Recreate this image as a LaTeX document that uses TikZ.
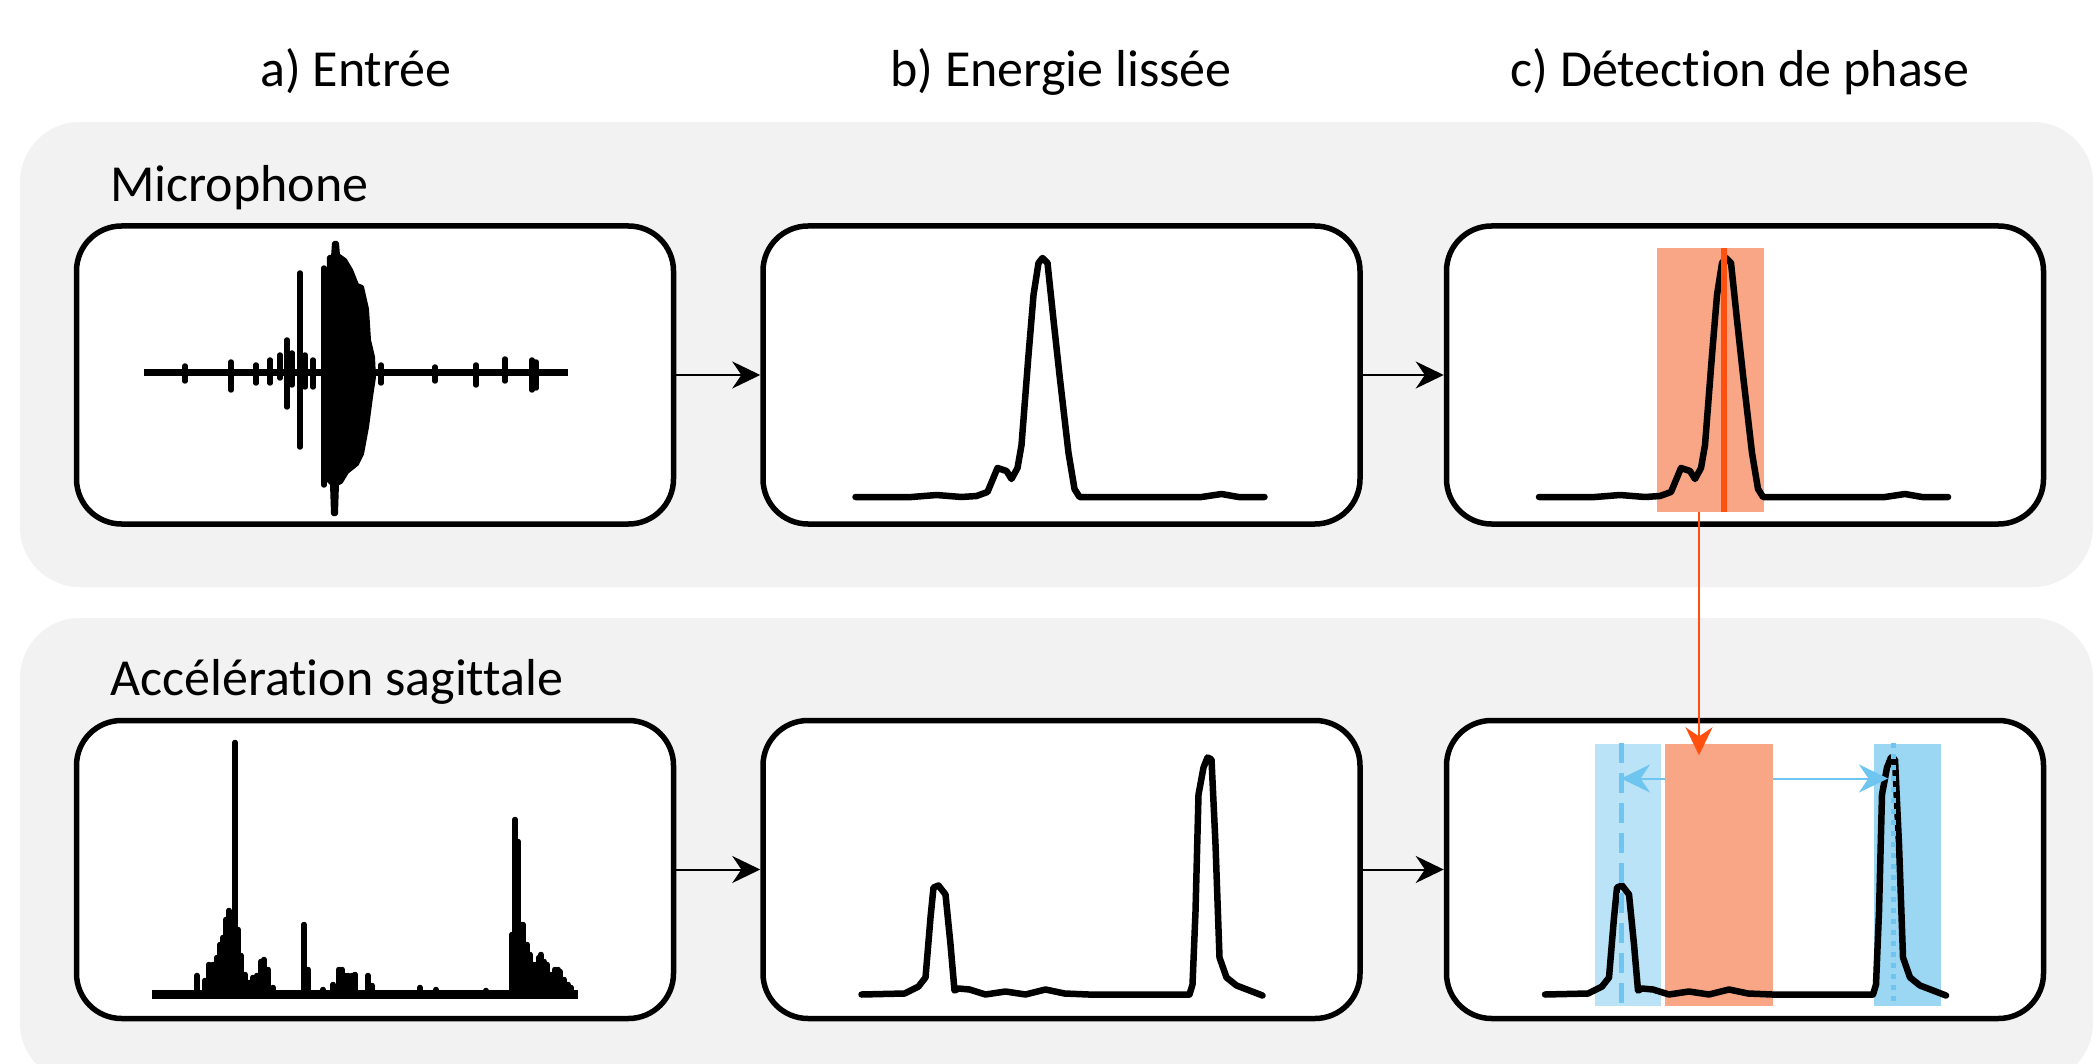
\documentclass[tikz,border=0pt]{standalone}
\usepackage{fontspec}
\setmainfont{Carlito}[Ligatures=NoCommon]
\usetikzlibrary{positioning, arrows.meta}

\definecolor{bandgray}{HTML}{F2F2F2}
\definecolor{salmon}{RGB}{248,166,134}
\definecolor{vermilion}{RGB}{255,80,16}
\definecolor{skyline}{RGB}{110,198,240}
\definecolor{skylight}{RGB}{186,227,247}
\definecolor{skymid}{RGB}{155,215,243}

\tikzstyle{band} = [fill=bandgray, rounded corners=60pt]
\tikzstyle{panel} = [rectangle, rounded corners=45pt, minimum width=597pt, minimum height=298pt, draw=black, line width=5.5pt, fill=white]
\tikzstyle{coltitle} = [anchor=base, inner sep=0pt, font=\fontsize{52}{62}\selectfont]
\tikzstyle{rowlabel} = [anchor=base west, inner sep=0pt, font=\fontsize{52}{62}\selectfont]
\tikzstyle{arrow} = [line width=2pt, -{Stealth[length=28pt,width=27pt]}]
\tikzstyle{signal} = [line width=6.5pt, line join=round, line cap=round]
\tikzstyle{spike} = [line width=5.5pt, line cap=round]
\tikzstyle{window} = [rectangle, inner sep=0pt, minimum width=107pt, minimum height=263pt, fill=salmon]
\tikzstyle{segment} = [rectangle, inner sep=0pt, minimum width=66pt, minimum height=262pt]
\tikzstyle{redlink} = [line width=2pt, draw=vermilion, -{Stealth[length=28pt,width=27pt]}]
\tikzstyle{bluelink} = [line width=2pt, draw=skyline, -{Stealth[length=29pt,width=28pt]}]

% smoothed energy curves, local coordinates (y down)
\newcommand{\micenergy}{(-206,122) -- (-150,122) -- (-125,120) -- (-100,122) -- (-85,121) -- (-74,117) -- (-64,93) -- (-55,96) -- (-50,104) -- (-44,93) -- (-40,70) -- (-33,-20) -- (-28,-80) -- (-23,-112) -- (-19,-117) -- (-14,-112) -- (-8,-55) -- (-2,0) -- (7,78) -- (13,114) -- (18,122) -- (140,122) -- (160,119) -- (177,122) -- (203,122)}
\newcommand{\accenergy}{(-200,125) -- (-157,124) -- (-143,117) -- (-136,108) -- (-131,48) -- (-128,18) -- (-123,16) -- (-116,25) -- (-111,75) -- (-107,121) -- (-103,119) -- (-92,120) -- (-76,125) -- (-56,122) -- (-36,125) -- (-16,120) -- (3,124) -- (27,125) -- (128,125) -- (131,115) -- (134,42) -- (137,-75) -- (142,-102) -- (146,-112) -- (150,-110) -- (154,-25) -- (158,88) -- (165,108) -- (175,116) -- (201,126)}

\begin{document}
\begin{tikzpicture}[x=1pt, y=-1pt]

\useasboundingbox (0,0) rectangle (2099,1064);
\fill[white] (0,0) rectangle (2099,1064);

% background bands
\fill[band] (20,122) rectangle (2093,587);
\fill[band] (20,618) rectangle (2093,1083);

% column titles and row labels
\node (titlea) [coltitle] at (356,87) {a) Entrée};
\node (titleb) [coltitle] at (1061,87) {b) Energie lissée};
\node (titlec) [coltitle] at (1740,87) {c) Détection de phase};
\node (labmic) [rowlabel] at (110,202) {Microphone};
\node (labacc) [rowlabel] at (110,695) {Accélération sagittale};

% panels
\node (p1mic) [panel] at (375,375) {};
\node (p2mic) [panel, right=84pt of p1mic] {};
\node (p3mic) [panel, right=81pt of p2mic] {};
\node (p1acc) [panel, below=191pt of p1mic] {};
\node (p2acc) [panel, right=84pt of p1acc] {};
\node (p3acc) [panel, right=81pt of p2acc] {};

\draw [arrow] (p1mic) -- (p2mic);
\draw [arrow] (p2mic) -- (p3mic);
\draw [arrow] (p1acc) -- (p2acc);
\draw [arrow] (p2acc) -- (p3acc);

% raw microphone signal
\begin{scope}[shift={(p1mic.center)}]
  \draw[line width=7pt] (-231,-2) -- (193,-2);
  \foreach \x/\t/\b in {-190/-9/6, -144/-13/15, -119/-10/8, -105/-15/8, -95/-20/3, -88/-35/32, -83/-22/10, -75/-102/72, -70/-20/12, -62/-15/12, -51/-107/110, 6/-10/8, 60/-8/6, 101/-10/10, 130/-16/6, 157/-15/15, 161/-13/13}
    \draw[spike] (\x,\t) -- (\x,\b);
  \filldraw[line width=4pt, line join=round] (-47,-2) -- (-46,-118) -- (-42,-118) -- (-41,-132) -- (-38,-132) -- (-37,-120) -- (-30,-115) -- (-24,-105) -- (-18,-90) -- (-13,-88) -- (-8,-66) -- (-6,-35) -- (-2,-18) -- (-1,2) -- (-4,22) -- (-8,52) -- (-13,79) -- (-18,89) -- (-28,97) -- (-34,107) -- (-38,109) -- (-39,139) -- (-42,139) -- (-43,109) -- (-47,105) -- cycle;
\end{scope}

% raw sagittal acceleration
\begin{scope}[shift={(p1acc.center)}]
  \draw[line width=9pt] (-223,125) -- (203,125);
  \foreach \x/\t in {-178/106, -170/111, -166/95, -162/95, -158/88, -155/75, -152/68, -149/50, -146/41, -140/-127, -137/60, -134/86, -130/105, -126/113, -122/108, -118/106, -114/92, -111/90, -107/100, -102/118, -71/55, -67/100, -52/120, -42/115, -36/100, -33/100, -30/106, -27/106, -23/106, -20/105, -7/106, -3/116, 45/118, 61/120, 111/121, 137/65, 140/-50, 143/-28, 146/55, 148/55, 152/75, 155/85, 158/95, 161/95, 164/88, 166/85, 169/92, 172/95, 176/105, 180/100, 183/100, 185/102, 189/110, 193/115, 196/118}
    \draw[spike] (\x,125) -- (\x,\t);
\end{scope}

% smoothed energy
\draw[signal, shift={(p2mic.center)}] \micenergy;
\draw[signal, shift={(p2acc.center)}] \accenergy;

% phase detection, microphone
\node (winmic) [window] at ([xshift=-35pt, yshift=-5pt]p3mic.center) {};
\draw[signal, shift={(p3mic.center)}] \micenergy;
\coordinate (peakmic) at ([xshift=-21pt]p3mic.center);
\draw[line width=6pt, draw=vermilion] (winmic.north -| peakmic) -- (winmic.south -| peakmic);

% phase detection, acceleration
\node (seg1) [segment, fill=skylight] at ([xshift=-117pt, yshift=-5pt]p3acc.center) {};
\node (winacc) [window, minimum width=108pt, minimum height=262pt] at ([xshift=-26pt, yshift=-5pt]p3acc.center) {};
\node (seg2) [segment, minimum width=67pt, fill=skymid] at ([xshift=162pt, yshift=-5pt]p3acc.center) {};
\draw[signal, shift={(p3acc.center)}] \accenergy;
\coordinate (onseta) at ([xshift=-124pt, yshift=91pt]p3acc.center);
\coordinate (onsetb) at ([xshift=143pt, yshift=91pt]p3acc.center);
\coordinate (peakacc) at ([xshift=148pt]p3acc.center);
\draw[line width=5pt, draw=skyline, dash pattern=on 20pt off 10pt] (seg1.north -| onseta) -- (seg1.south -| onseta);
\draw[line width=5pt, draw=skyline, dash pattern=on 5pt off 6pt] (seg2.north -| peakacc) -- (seg2.south -| peakacc);
\draw[bluelink] (winacc.west |- onseta) -- (onseta);
\draw[bluelink] (winacc.east |- onsetb) -- (onsetb);

% link between the two rows
\coordinate (drop) at ([xshift=-11pt]winmic.south);
\draw[redlink, shorten >=-12pt] (drop) -- (drop |- winacc.north);

\end{tikzpicture}
\end{document}
